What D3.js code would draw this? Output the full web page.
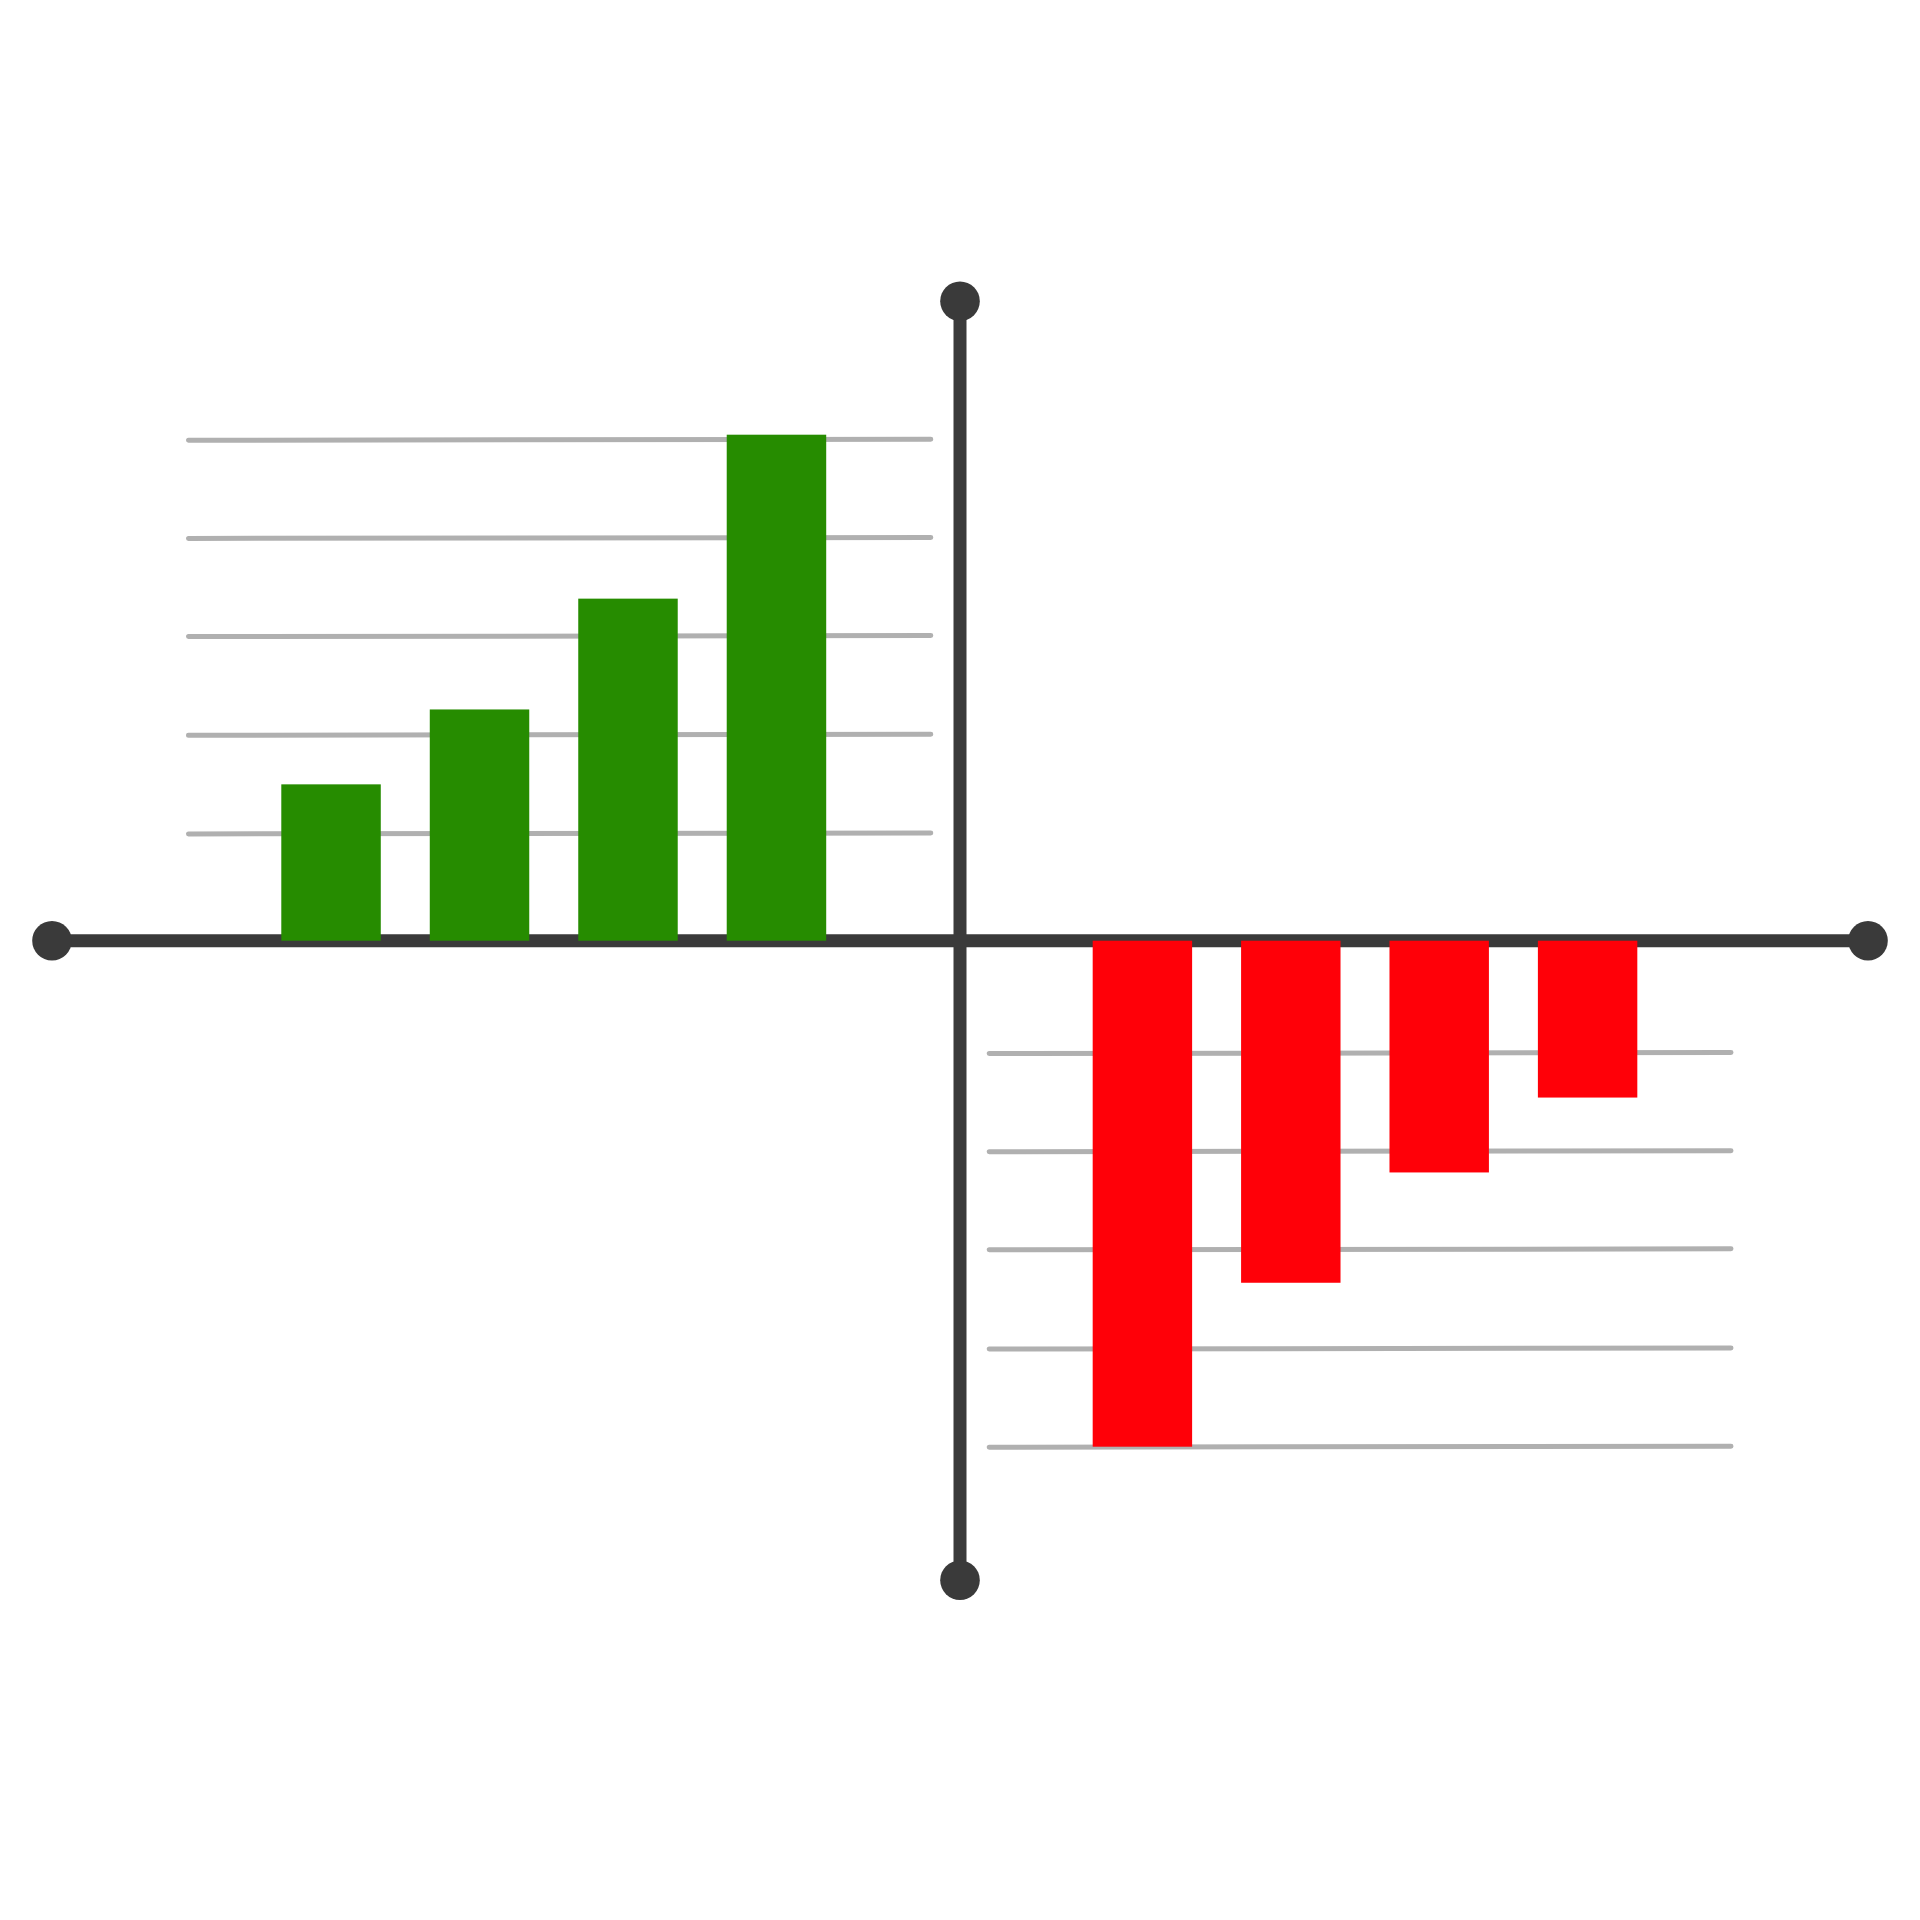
<!DOCTYPE html>
<html>
<head>
<meta charset="utf-8">
<script src="https://cdn.jsdelivr.net/npm/d3@7"></script>
<style>
  html, body { margin: 0; padding: 0; background: #ffffff; }
  svg { display: block; }
</style>
</head>
<body>
<script>
// ---- data ----
const gainCategories = ["G1", "G2", "G3", "G4"];
const gainValues = [30.9, 45.7, 67.6, 100];
const lossCategories = ["L1", "L2", "L3", "L4"];
const lossValues = [-100, -67.6, -45.8, -31];
const gainGridTicks = [21.2, 40.7, 60.2, 79.6, 99.0];
const lossGridTicks = [-22.2, -41.6, -61.0, -80.6, -100];

// ---- layout ----
const W = 1920, H = 1920;
const cx = 960, cy = 940.7;
const halfX = 908, halfY = 639.5;

const svg = d3.select("body").append("svg")
  .attr("width", W).attr("height", H);

const y = d3.scaleLinear().domain([-100, 100]).range([cy + 506, cy - 506]);

const xGain = d3.scaleBand().domain(gainCategories)
  .range([256.8, 850.7]).paddingInner(0.33).paddingOuter(0.165);
const xLoss = d3.scaleBand().domain(lossCategories)
  .range([1068.2, 1661.8]).paddingInner(0.33).paddingOuter(0.165);

const gridColor = "#b0b0b0";
const axisColor = "#3a3a3a";

// gridlines
const grid = svg.append("g");
grid.selectAll("line.gain").data(gainGridTicks).join("line")
  .attr("x1", 188.5).attr("x2", 930.8)
  .attr("y1", d => y(d) + 0.5).attr("y2", d => y(d) - 0.5)
  .attr("stroke", gridColor).attr("stroke-width", 5)
  .attr("stroke-linecap", "round");
grid.selectAll("line.loss").data(lossGridTicks).join("line")
  .attr("x1", 989.2).attr("x2", 1731)
  .attr("y1", d => y(d) + 0.5).attr("y2", d => y(d) - 0.5)
  .attr("stroke", gridColor).attr("stroke-width", 5)
  .attr("stroke-linecap", "round");

// axes
const axes = svg.append("g");
axes.append("line")
  .attr("x1", cx - halfX).attr("x2", cx + halfX)
  .attr("y1", cy).attr("y2", cy)
  .attr("stroke", axisColor).attr("stroke-width", 13);
axes.append("line")
  .attr("x1", cx).attr("x2", cx)
  .attr("y1", cy - halfY).attr("y2", cy + halfY)
  .attr("stroke", axisColor).attr("stroke-width", 13);
const ends = [[cx - halfX, cy], [cx + halfX, cy], [cx, cy - halfY], [cx, cy + halfY]];
axes.selectAll("circle").data(ends).join("circle")
  .attr("cx", d => d[0]).attr("cy", d => d[1]).attr("r", 19.8)
  .attr("fill", axisColor);

// bars
svg.append("g").selectAll("rect").data(gainValues).join("rect")
  .attr("x", (d, i) => xGain(gainCategories[i]))
  .attr("width", xGain.bandwidth())
  .attr("y", d => y(d))
  .attr("height", d => y(0) - y(d))
  .attr("fill", "#268c00");

svg.append("g").selectAll("rect").data(lossValues).join("rect")
  .attr("x", (d, i) => xLoss(lossCategories[i]))
  .attr("width", xLoss.bandwidth())
  .attr("y", y(0))
  .attr("height", d => y(d) - y(0))
  .attr("fill", "#ff0008");
</script>
</body>
</html>
